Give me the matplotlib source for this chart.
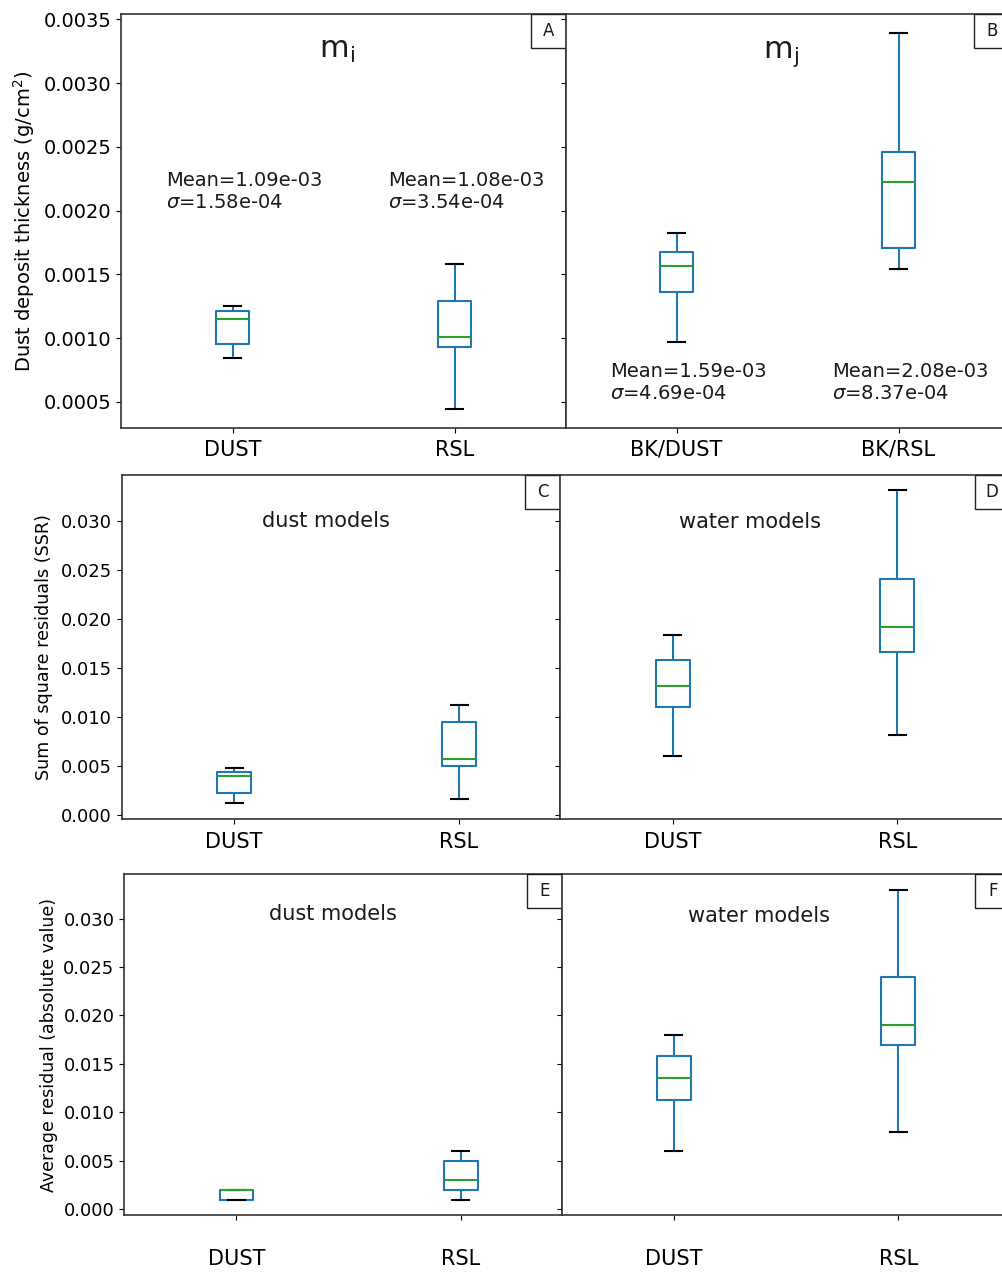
import matplotlib
matplotlib.use('Agg')
import matplotlib.pyplot as plt
import matplotlib.transforms as mtransforms
from matplotlib.patches import Rectangle

# ---- data ----
mi_labels = ['DUST', 'RSL']
mi_whislo = [0.000848, 0.000443]
mi_q1 = [0.000955, 0.000932]
mi_med = [0.001154, 0.001010]
mi_q3 = [0.001212, 0.001291]
mi_whishi = [0.001252, 0.001581]
mi_mean = [1.09e-03, 1.08e-03]
mi_sigma = [1.58e-04, 3.54e-04]

mj_labels = ['BK/DUST', 'BK/RSL']
mj_whislo = [0.000971, 0.001544]
mj_q1 = [0.001361, 0.001704]
mj_med = [0.001563, 0.002222]
mj_q3 = [0.001672, 0.002463]
mj_whishi = [0.001822, 0.003395]
mj_mean = [1.59e-03, 2.08e-03]
mj_sigma = [4.69e-04, 8.37e-04]

model_labels = ['DUST', 'RSL']
ssr_dust_whislo = [0.00114, 0.00158]
ssr_dust_q1 = [0.00220, 0.00493]
ssr_dust_med = [0.00397, 0.00564]
ssr_dust_q3 = [0.00431, 0.00946]
ssr_dust_whishi = [0.00472, 0.01119]

ssr_water_whislo = [0.00595, 0.00813]
ssr_water_q1 = [0.01096, 0.01658]
ssr_water_med = [0.01310, 0.01917]
ssr_water_q3 = [0.01582, 0.02404]
ssr_water_whishi = [0.01838, 0.03310]

avg_dust_whislo = [0.001, 0.001]
avg_dust_q1 = [0.001, 0.002]
avg_dust_med = [0.002, 0.003]
avg_dust_q3 = [0.002, 0.005]
avg_dust_whishi = [0.002, 0.006]

avg_water_whislo = [0.006, 0.008]
avg_water_q1 = [0.0113, 0.017]
avg_water_med = [0.0135, 0.019]
avg_water_q3 = [0.0158, 0.024]
avg_water_whishi = [0.018, 0.033]

W, H = 1003, 1273
C_BOX = '#1f77b4'
C_MED = '#2ca02c'

plt.rcParams['axes.linewidth'] = 1.2
plt.rcParams['text.color'] = '#1a1a1a'


def make_stats(labels, whislo, q1, med, q3, whishi):
    return [dict(label=l, whislo=a, q1=b, med=c, q3=d, whishi=e, fliers=[])
            for l, a, b, c, d, e in zip(labels, whislo, q1, med, q3, whishi)]


def px_axes(fig, left, right, top, bottom):
    return fig.add_axes([left / W, 1 - bottom / H, (right - left) / W,
                         (bottom - top) / H])


def draw_box(ax, stats):
    ax.bxp(stats, positions=[1, 2], widths=0.15, showfliers=False,
           boxprops=dict(color=C_BOX, lw=1.5),
           whiskerprops=dict(color=C_BOX, lw=1.5),
           capprops=dict(color='k', lw=1.5),
           medianprops=dict(color=C_MED, lw=1.5))


def corner_label(fig, ax, letter):
    tr = fig.dpi_scale_trans + mtransforms.ScaledTranslation(1, 1, ax.transAxes)
    ax.add_patch(Rectangle((-0.35, -0.34), 0.35, 0.34, transform=tr,
                           facecolor='white', edgecolor='#222222', lw=1.0,
                           zorder=5, clip_on=False))
    ax.text(-0.175, -0.17, letter, transform=tr, ha='center', va='center',
            fontsize=12, zorder=6)


fig = plt.figure(figsize=(W / 100, H / 100), dpi=100)

rows = [
    dict(left=(121.5, 565.7), right=(565.7, 1009.5), y=(14, 428),
         xlim_left=(0.5, 2.5), pad=5, ytick=14),
    dict(left=(121.7, 560.3), right=(560.3, 1009.7), y=(474.7, 819),
         xlim_left=(0.5, 2.45), pad=6, ytick=13),
    dict(left=(124.3, 561.7), right=(561.7, 1010.5), y=(874, 1215),
         xlim_left=(0.5, 2.45), pad=21, ytick=13),
]

panel_stats = [
    (make_stats(mi_labels, mi_whislo, mi_q1, mi_med, mi_q3, mi_whishi),
     make_stats(mj_labels, mj_whislo, mj_q1, mj_med, mj_q3, mj_whishi)),
    (make_stats(model_labels, ssr_dust_whislo, ssr_dust_q1, ssr_dust_med,
                ssr_dust_q3, ssr_dust_whishi),
     make_stats(model_labels, ssr_water_whislo, ssr_water_q1, ssr_water_med,
                ssr_water_q3, ssr_water_whishi)),
    (make_stats(model_labels, avg_dust_whislo, avg_dust_q1, avg_dust_med,
                avg_dust_q3, avg_dust_whishi),
     make_stats(model_labels, avg_water_whislo, avg_water_q1, avg_water_med,
                avg_water_q3, avg_water_whishi)),
]

letters = [('A', 'B'), ('C', 'D'), ('E', 'F')]
ylabels = ['Dust deposit thickness (g/cm$^2$)',
           'Sum of square residuals (SSR)',
           'Average residual (absolute value)']
ylabel_size = [14, 12.6, 12.5]
ylabel_x = [-0.19, -0.157, -0.152]

axes = []
for i, r in enumerate(rows):
    axl = px_axes(fig, r['left'][0], r['left'][1], r['y'][0], r['y'][1])
    axr = px_axes(fig, r['right'][0], r['right'][1], r['y'][0], r['y'][1])
    axr.sharey(axl)
    draw_box(axl, panel_stats[i][0])
    draw_box(axr, panel_stats[i][1])
    axl.set_xlim(*r['xlim_left'])
    axr.set_xlim(0.5, 2.5)
    for ax in (axl, axr):
        ax.tick_params(axis='x', labelsize=15, pad=r['pad'])
        ax.tick_params(axis='y', labelsize=r['ytick'])
        for s in ax.spines.values():
            s.set_color('#333333')
    axr.tick_params(axis='y', labelleft=False)
    axl.set_ylabel(ylabels[i], fontsize=ylabel_size[i])
    axl.yaxis.set_label_coords(ylabel_x[i], 0.5)
    corner_label(fig, axl, letters[i][0])
    corner_label(fig, axr, letters[i][1])
    axes.append((axl, axr))

# row 1 annotations
axA, axB = axes[0]
axA.text(1.47, 0.0032, r'm$_\mathrm{i}$', fontsize=22, ha='center', va='baseline')
axB.text(1.47, 0.0032, r'm$_\mathrm{j}$', fontsize=22, ha='center', va='baseline')
for k in range(2):
    axA.text(k + 0.7, 0.00231, f'Mean={mi_mean[k]:.2e}\n$\\sigma$={mi_sigma[k]:.2e}',
             fontsize=14, ha='left', va='top')
    axB.text(k + 0.7, 0.00081, f'Mean={mj_mean[k]:.2e}\n$\\sigma$={mj_sigma[k]:.2e}',
             fontsize=14, ha='left', va='top')

# rows 2 and 3 annotations
axC, axD = axes[1]
axC.text(0.466, 0.865, 'dust models', fontsize=15, ha='center', va='center',
         transform=axC.transAxes)
axD.text(0.422, 0.863, 'water models', fontsize=15, ha='center', va='center',
         transform=axD.transAxes)
axE, axF = axes[2]
axE.text(0.476, 0.884, 'dust models', fontsize=15, ha='center', va='center',
         transform=axE.transAxes)
axF.text(0.44, 0.876, 'water models', fontsize=15, ha='center', va='center',
         transform=axF.transAxes)

fig.savefig('out.png', dpi=100)
